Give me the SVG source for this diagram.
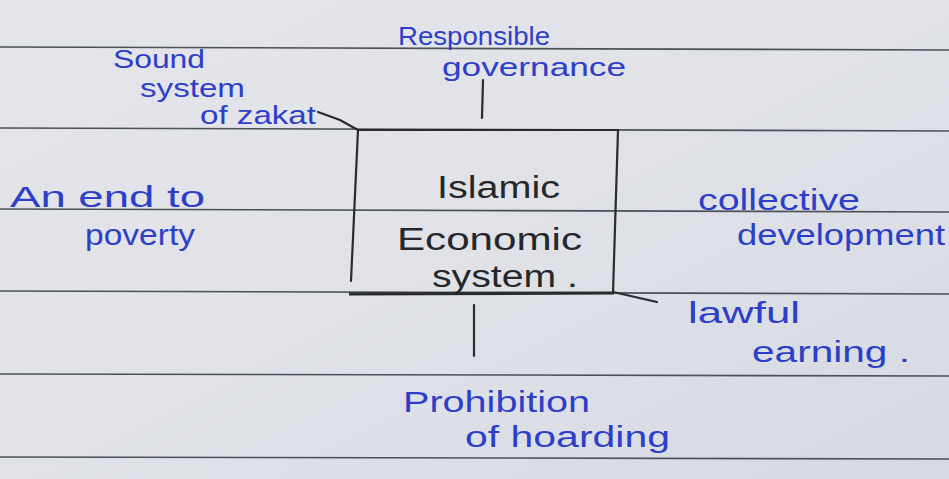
<svg xmlns="http://www.w3.org/2000/svg" width="949" height="479" viewBox="0 0 949 479">
<defs>
<linearGradient id="paper" x1="0" y1="0" x2="1" y2="1">
<stop offset="0" stop-color="#e3e5ea"/>
<stop offset="0.5" stop-color="#e0e2e8"/>
<stop offset="1" stop-color="#d6d9e1"/>
</linearGradient>
<style>
.rule{stroke:#4d5058;stroke-width:1.6;fill:none}
.ink{stroke:#2a2b30;stroke-width:2.2;fill:none;stroke-linecap:round}
.blue{font-family:"Liberation Sans","DejaVu Sans",sans-serif;font-size:29px;fill:#2d3fc8}
.small{font-size:25px}
.mid{font-size:26px}
.black{font-family:"Liberation Sans","DejaVu Sans",sans-serif;font-size:31px;fill:#26272c}
</style>
</defs>
<rect width="949" height="479" fill="url(#paper)"/>
<g id="ruled-lines">
<line class="rule" x1="0" y1="47" x2="949" y2="50"/>
<line class="rule" x1="0" y1="128" x2="949" y2="131"/>
<line class="rule" x1="0" y1="209" x2="949" y2="212"/>
<line class="rule" x1="0" y1="291" x2="949" y2="294"/>
<line class="rule" x1="0" y1="374" x2="949" y2="376"/>
<line class="rule" x1="0" y1="457" x2="949" y2="459"/>
</g>
<g id="connectors">
<line class="ink" x1="483" y1="80" x2="482" y2="118"/>
<path class="ink" d="M318 112 L340 120 L358 130"/>
<line class="ink" x1="474" y1="305" x2="474" y2="356"/>
<path class="ink" d="M613 292 L635 297 L657 302"/>
</g>
<g id="center">
<path class="ink" d="M358 130 L618 130 L613 293 M358 130 L351 281"/>
<line x1="349" y1="294" x2="614" y2="293" stroke="#2a2b30" stroke-width="3.2"/>
<text class="black" x="437" y="198" textLength="123" lengthAdjust="spacingAndGlyphs">Islamic</text>
<text class="black" x="397" y="250" textLength="185" lengthAdjust="spacingAndGlyphs">Economic</text>
<text class="black" x="432" y="287" textLength="146" lengthAdjust="spacingAndGlyphs">system .</text>
</g>
<g id="responsible-governance">
<text class="blue mid" x="398" y="45" textLength="152" lengthAdjust="spacingAndGlyphs">Responsible</text>
<text class="blue mid" x="442" y="76" textLength="184" lengthAdjust="spacingAndGlyphs">governance</text>
</g>
<g id="sound-system-of-zakat">
<text class="blue small" x="113" y="68" textLength="92" lengthAdjust="spacingAndGlyphs">Sound</text>
<text class="blue small" x="140" y="97" textLength="105" lengthAdjust="spacingAndGlyphs">system</text>
<text class="blue small" x="200" y="124" textLength="116" lengthAdjust="spacingAndGlyphs">of zakat</text>
</g>
<g id="end-to-poverty">
<text class="blue" x="10" y="207" textLength="195" lengthAdjust="spacingAndGlyphs">An  end  to</text>
<text class="blue" x="85" y="245" textLength="110" lengthAdjust="spacingAndGlyphs">poverty</text>
</g>
<g id="collective-development">
<text class="blue" x="698" y="210" textLength="162" lengthAdjust="spacingAndGlyphs">collective</text>
<text class="blue" x="737" y="245" textLength="208" lengthAdjust="spacingAndGlyphs">development</text>
</g>
<g id="lawful-earning">
<text class="blue" x="688" y="323" textLength="112" lengthAdjust="spacingAndGlyphs">lawful</text>
<text class="blue" x="752" y="362" textLength="158" lengthAdjust="spacingAndGlyphs">earning .</text>
</g>
<g id="prohibition-of-hoarding">
<text class="blue" x="403" y="412" textLength="187" lengthAdjust="spacingAndGlyphs">Prohibition</text>
<text class="blue" x="465" y="447" textLength="205" lengthAdjust="spacingAndGlyphs">of  hoarding</text>
</g>
</svg>
